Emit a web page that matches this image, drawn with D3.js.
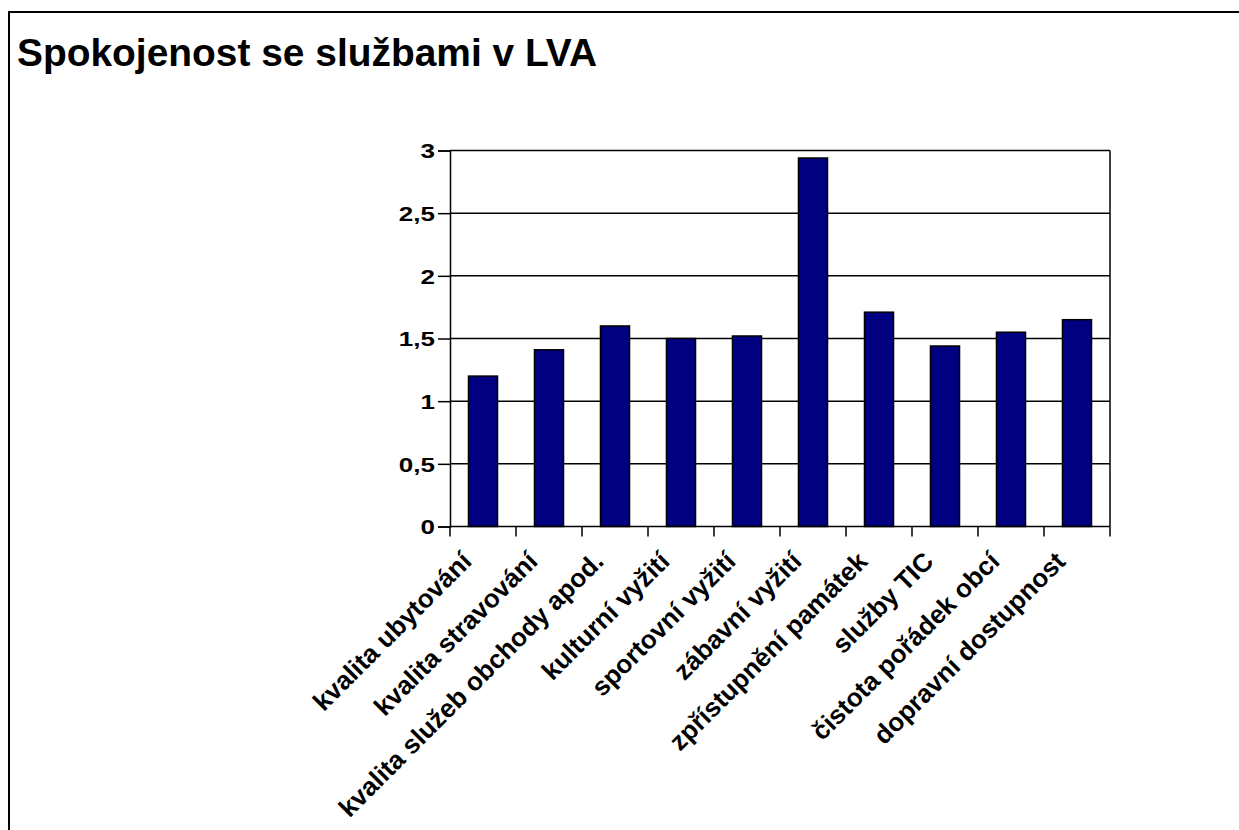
<!DOCTYPE html>
<html>
<head>
<meta charset="utf-8">
<script src="https://cdn.jsdelivr.net/npm/d3@7"></script>
<style>
    body { margin: 0; background: #fff; }
    text { font-family: Arial, "Liberation Sans", sans-serif; font-weight: bold; fill: #000; }
</style>
</head>
<body>
<svg id="chart" width="1239" height="830"></svg>
<script>
// Data
const categories = [
    "kvalita ubytování",
    "kvalita stravování",
    "kvalita služeb obchody apod.",
    "kulturní vyžití",
    "sportovní vyžití",
    "zábavní vyžití",
    "zpřístupnění památek",
    "služby TIC",
    "čistota pořádek obcí",
    "dopravní dostupnost"
];
const values = [1.2, 1.41, 1.6, 1.5, 1.52, 2.94, 1.71, 1.44, 1.55, 1.65];
const yTicks = [0, 0.5, 1, 1.5, 2, 2.5, 3];
const title = "Spokojenost se službami v LVA";

const svg = d3.select('#chart');

// Outer frame (runs off the right and bottom edges)
svg.append('rect')
    .attr('x', 9).attr('y', 12)
    .attr('width', 1240).attr('height', 830)
    .attr('fill', 'none')
    .attr('stroke', '#000')
    .attr('stroke-width', 2);

// Title
svg.append('text')
    .attr('x', 17).attr('y', 66)
    .attr('font-size', 38)
    .attr('textLength', 580)
    .attr('lengthAdjust', 'spacingAndGlyphs')
    .text(title);

// Plot area
const plot_left = 450, plot_right = 1110, plot_top = 150.5, plot_bottom = 526.5;

const x_scale = d3.scaleBand()
    .domain(categories)
    .range([plot_left, plot_right]);
const y_scale = d3.scaleLinear()
    .domain([0, 3])
    .range([plot_bottom, plot_top]);

// Gridlines
svg.append('g')
    .selectAll('line')
    .data(yTicks.filter(d => d > 0))
    .enter()
    .append('line')
    .attr('x1', plot_left).attr('x2', plot_right)
    .attr('y1', d => y_scale(d)).attr('y2', d => y_scale(d))
    .attr('stroke', '#000')
    .attr('stroke-width', 1.5);

// Right border of plot area
svg.append('line')
    .attr('x1', plot_right).attr('x2', plot_right)
    .attr('y1', plot_top).attr('y2', plot_bottom)
    .attr('stroke', '#000')
    .attr('stroke-width', 1.5);

// Bars
const bar_w = x_scale.bandwidth() * 0.44;
svg.append('g')
    .selectAll('rect')
    .data(values)
    .enter()
    .append('rect')
    .attr('x', (d, i) => x_scale(categories[i]) + (x_scale.bandwidth() - bar_w) / 2)
    .attr('y', d => y_scale(d))
    .attr('width', bar_w)
    .attr('height', d => y_scale(0) - y_scale(d))
    .attr('fill', '#000080')
    .attr('stroke', '#000')
    .attr('stroke-width', 1.5);

// Y axis (labels are drawn wide, as in the original)
const y_axis = d3.axisLeft(y_scale)
    .tickValues(yTicks)
    .tickSize(12)
    .tickPadding(0)
    .tickFormat(d => String(d).replace('.', ','));
const yg = svg.append('g')
    .attr('transform', 'translate(' + plot_left + ',0)')
    .call(y_axis);
yg.attr('font-family', null).attr('font-size', null);
yg.select('.domain').attr('stroke-width', 1.5);
yg.selectAll('.tick line').attr('stroke-width', 1.5);
yg.selectAll('.tick text')
    .attr('font-size', 20)
    .attr('x', -15 / 1.3)
    .attr('dy', '0.36em')
    .attr('transform', 'scale(1.3,1)');

// X axis: ticks at band edges
const edges = categories.map(c => x_scale(c)).concat([plot_right]);
svg.append('line')
    .attr('x1', plot_left).attr('x2', plot_right)
    .attr('y1', plot_bottom).attr('y2', plot_bottom)
    .attr('stroke', '#000')
    .attr('stroke-width', 1.5);
svg.append('g')
    .selectAll('line')
    .data(edges)
    .enter()
    .append('line')
    .attr('x1', d => d).attr('x2', d => d)
    .attr('y1', plot_bottom).attr('y2', plot_bottom + 10)
    .attr('stroke', '#000')
    .attr('stroke-width', 1.5);

// Rotated category labels
svg.append('g')
    .selectAll('text')
    .data(categories)
    .enter()
    .append('text')
    .attr('font-size', 26)
    .attr('text-anchor', 'end')
    .attr('transform', d => 'translate(' + (x_scale(d) + x_scale.bandwidth() / 2 - 10) + ',563) rotate(-45)')
    .text(d => d);
</script>
</body>
</html>
